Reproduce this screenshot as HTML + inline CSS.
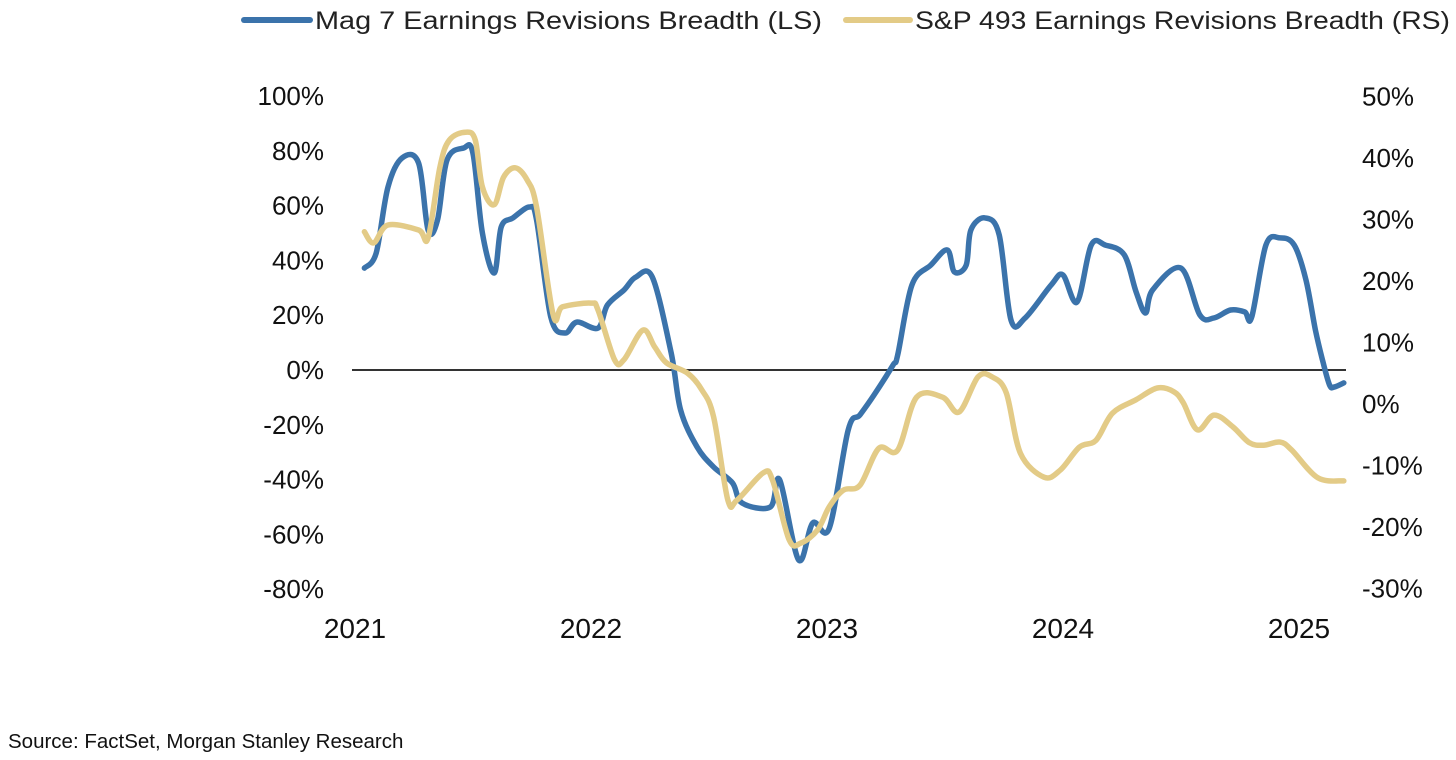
<!DOCTYPE html>
<html><head><meta charset="utf-8"><style>
html,body{margin:0;padding:0;background:#fff;}
svg{display:block;font-family:"Liberation Sans",sans-serif;}
</style></head><body>
<svg id="chart" width="1456" height="760" viewBox="0 0 1456 760" xmlns="http://www.w3.org/2000/svg">
<g>
<line x1="244" y1="20" x2="310" y2="20" stroke="#3b73ab" stroke-width="6" stroke-linecap="round"/>
<text x="315" y="29" font-size="25" fill="#222" textLength="507" lengthAdjust="spacingAndGlyphs">Mag 7 Earnings Revisions Breadth (LS)</text>
<line x1="846" y1="20" x2="910" y2="20" stroke="#e3cb87" stroke-width="6" stroke-linecap="round"/>
<text x="915" y="29" font-size="25" fill="#222" textLength="535" lengthAdjust="spacingAndGlyphs">S&amp;P 493 Earnings Revisions Breadth (RS)</text>
</g>
<g id="axes"></g>
<g id="series"></g>
<text x="8" y="748" font-size="20.5" fill="#111">Source: FactSet, Morgan Stanley Research</text>
</svg>
<script>
const leftTicks=[100,80,60,40,20,0,-20,-40,-60,-80];
const rightTicks=[50,40,30,20,10,0,-10,-20,-30];
const years=[2021,2022,2023,2024,2025];
const mag7Dates=[2021.01,2021.06,2021.11,2021.17,2021.24,2021.28,2021.32,2021.36,2021.43,2021.47,2021.51,2021.56,2021.59,2021.64,2021.71,2021.74,2021.80,2021.86,2021.91,2022.00,2022.04,2022.11,2022.16,2022.23,2022.31,2022.35,2022.42,2022.49,2022.57,2022.61,2022.73,2022.77,2022.85,2022.91,2022.98,2023.06,2023.11,2023.17,2023.25,2023.27,2023.33,2023.41,2023.48,2023.51,2023.56,2023.58,2023.64,2023.70,2023.75,2023.81,2023.92,2023.97,2024.03,2024.09,2024.15,2024.23,2024.28,2024.32,2024.35,2024.47,2024.55,2024.61,2024.68,2024.74,2024.77,2024.83,2024.89,2024.95,2025.00,2025.04,2025.07,2025.10,2025.12,2025.16];
const mag7Values=[37.2,42.7,66.8,77.4,75.5,51.1,54.7,76.6,81.0,79.2,50.0,35.4,52.2,55.5,59.5,54.7,19.3,13.5,17.5,15.3,23.7,29.2,33.9,33.9,6.2,-14.6,-28.1,-35.4,-41.2,-48.5,-50.0,-40.1,-69.3,-55.8,-57.7,-21.9,-16.4,-9.1,1.8,5.5,31.0,38.3,43.8,35.8,38.3,51.1,55.5,49.3,18.2,19.0,31.0,34.7,24.8,45.6,45.6,42.0,28.5,20.8,29.2,37.2,20.1,19.0,21.9,21.2,19.3,45.6,48.2,45.6,32.8,14.6,3.6,-5.5,-6.2,-4.7];
const sp493Dates=[2021.01,2021.05,2021.11,2021.24,2021.28,2021.33,2021.37,2021.44,2021.48,2021.51,2021.56,2021.60,2021.65,2021.70,2021.74,2021.81,2021.85,2021.97,2022.00,2022.07,2022.11,2022.19,2022.24,2022.29,2022.38,2022.44,2022.49,2022.55,2022.59,2022.70,2022.74,2022.81,2022.86,2022.93,2022.98,2023.04,2023.11,2023.19,2023.27,2023.35,2023.46,2023.53,2023.61,2023.67,2023.73,2023.79,2023.89,2023.96,2024.04,2024.11,2024.18,2024.28,2024.37,2024.44,2024.48,2024.54,2024.61,2024.69,2024.76,2024.82,2024.89,2024.94,2025.05,2025.16];
const sp493Values=[28.0,26.2,29.1,28.3,27.0,38.5,42.9,44.2,42.9,35.3,32.4,36.9,38.4,36.4,32.0,14.5,15.8,16.4,15.3,7.2,7.2,12.0,9.3,6.7,5.0,2.3,-2.1,-15.6,-15.6,-11.2,-12.4,-22.1,-22.6,-20.5,-16.7,-14.0,-13.2,-7.2,-7.5,1.1,1.1,-1.3,4.4,4.4,1.8,-8.0,-11.9,-10.7,-7.0,-5.9,-1.5,0.7,2.6,2.0,0.2,-4.2,-1.8,-3.7,-6.3,-6.7,-6.2,-7.5,-12.0,-12.5];

const NS='http://www.w3.org/2000/svg';
const xScale=t=>362+(t-2021)*236;
const yLeft=v=>370-v*2.74;
const yRight=v=>404-v*6.15;
const axes=document.getElementById('axes');
const series=document.getElementById('series');
function mk(tag,attrs,parent){const e=document.createElementNS(NS,tag);for(const k in attrs)e.setAttribute(k,attrs[k]);parent.appendChild(e);return e;}

leftTicks.forEach(v=>{
  const t=mk('text',{x:324,y:yLeft(v)+9,'font-size':26,'text-anchor':'end',fill:'#111'},axes);
  
  
  t.textContent=v+'%';
});
rightTicks.forEach(v=>{
  const t=mk('text',{x:1362,y:yRight(v)+9,'font-size':26,'text-anchor':'start',fill:'#111'},axes);
  
  
  t.textContent=v+'%';
});
years.forEach(y=>{
  const t=mk('text',{x:xScale(y)-7,y:638,'font-size':28,'text-anchor':'middle',fill:'#111'},axes);
  
  
  t.textContent=y;
});
const zl=mk('line',{x1:352,x2:1346,y1:yLeft(0),y2:yLeft(0),stroke:'#333','stroke-width':2},axes);



function path(dates,vals,ys){
  const p=dates.map((d,i)=>[xScale(d),ys(vals[i])]);
  let s='M'+p[0][0].toFixed(1)+','+p[0][1].toFixed(1);
  for(let i=0;i<p.length-1;i++){
    const p0=p[Math.max(0,i-1)],p1=p[i],p2=p[i+1],p3=p[Math.min(p.length-1,i+2)];
    const c1x=p1[0]+(p2[0]-p0[0])/6,c1y=p1[1]+(p2[1]-p0[1])/6;
    const c2x=p2[0]-(p3[0]-p1[0])/6,c2y=p2[1]-(p3[1]-p1[1])/6;
    s+=' C'+c1x.toFixed(1)+','+c1y.toFixed(1)+' '+c2x.toFixed(1)+','+c2y.toFixed(1)+' '+p2[0].toFixed(1)+','+p2[1].toFixed(1);
  }
  return s;
}
const b=mk('path',{d:path(mag7Dates,mag7Values,yLeft),fill:'none',stroke:'#3b73ab','stroke-width':5.5,'stroke-linejoin':'round','stroke-linecap':'round'},series);


const g=mk('path',{d:path(sp493Dates,sp493Values,yRight),fill:'none',stroke:'#e3cb87','stroke-width':5.5,'stroke-linejoin':'round','stroke-linecap':'round'},series);


</script>
</body></html>
